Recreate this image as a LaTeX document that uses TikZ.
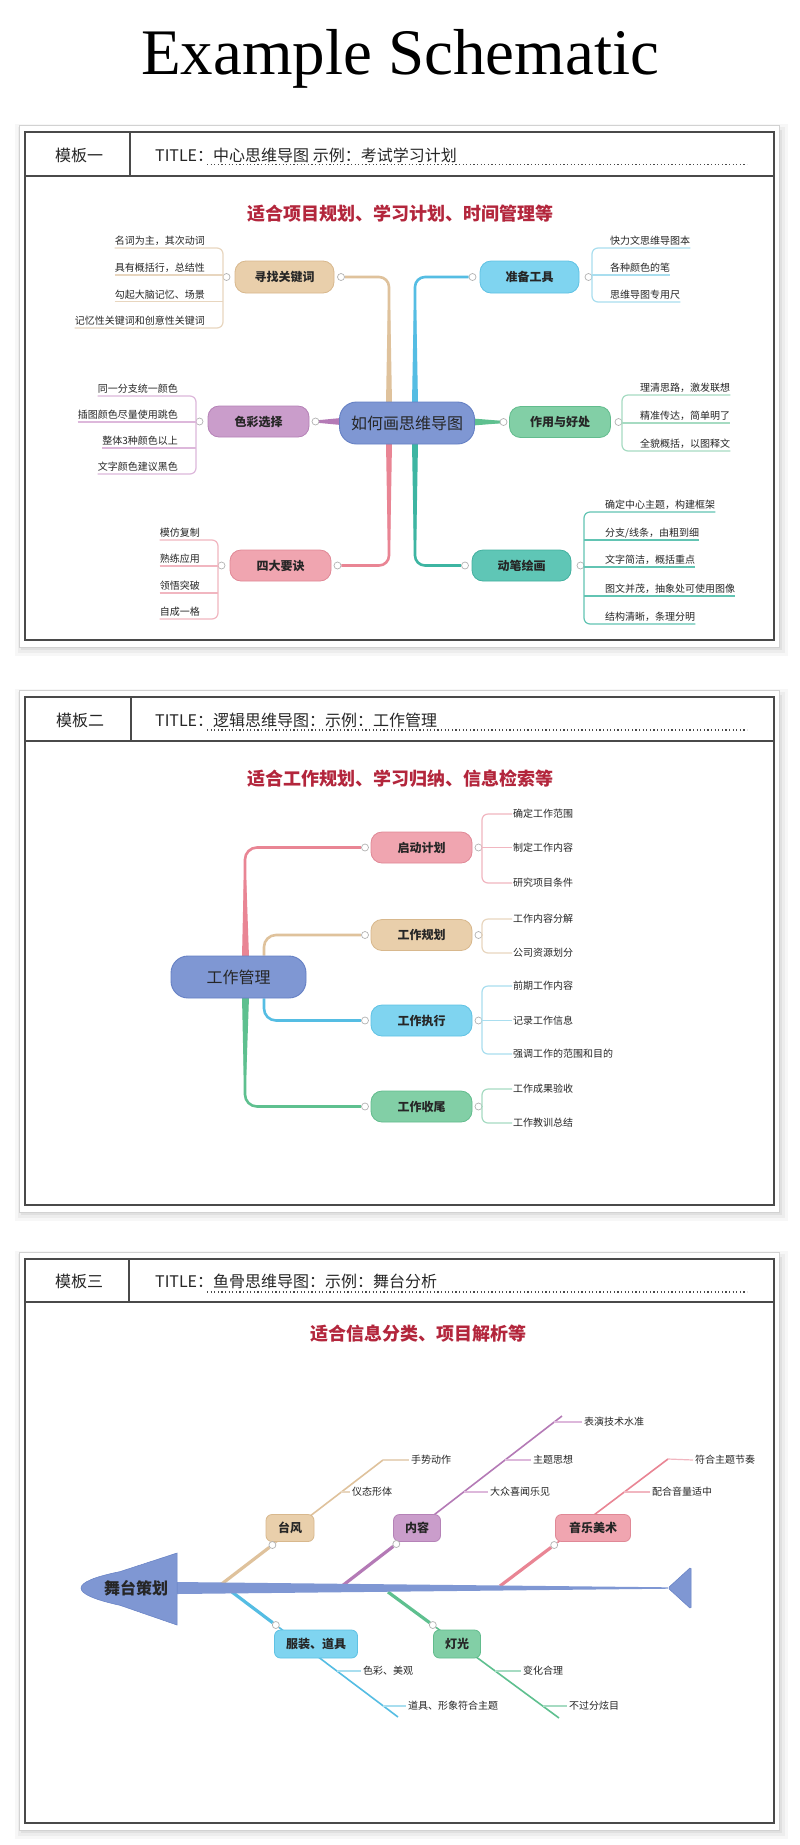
\documentclass[tikz,border=0pt]{standalone}
\usepackage{fontspec}
\newfontfamily\cjk{Noto Sans CJK SC}
\newfontfamily\ttlfont{Liberation Serif}
\usetikzlibrary{calc}
\pgfdeclarelayer{cards}
\pgfdeclarelayer{conn}
\pgfsetlayers{cards,conn,main}
\newcommand\fsz[1]{\fontsize{#1pt}{#1pt}\selectfont}
\definecolor{txtc}{HTML}{262626}
\definecolor{framec}{HTML}{4A4A4A}
\definecolor{subred}{HTML}{B3263C}
\definecolor{blueF}{HTML}{7F97D3}\definecolor{blueB}{HTML}{6580C4}
\definecolor{tanF}{HTML}{E9CFAB}\definecolor{tanB}{HTML}{D8B88D}\definecolor{tanL}{HTML}{DFC29C}\definecolor{tanU}{HTML}{E8D6BF}
\definecolor{skyF}{HTML}{7FD4F0}\definecolor{skyB}{HTML}{5FC2E4}\definecolor{skyL}{HTML}{55BDE3}\definecolor{skyU}{HTML}{A9DEEF}
\definecolor{purF}{HTML}{CA9DCB}\definecolor{purB}{HTML}{B582B7}\definecolor{purL}{HTML}{B47AB6}\definecolor{purU}{HTML}{DDB8DB}
\definecolor{grnF}{HTML}{82CFA6}\definecolor{grnB}{HTML}{62BC8D}\definecolor{grnL}{HTML}{5EC08F}\definecolor{grnU}{HTML}{A6DBC2}
\definecolor{pnkF}{HTML}{F0A5B0}\definecolor{pnkB}{HTML}{E08896}\definecolor{pnkL}{HTML}{E98594}\definecolor{pnkU}{HTML}{F1B6C0}
\definecolor{tealF}{HTML}{5FC6B6}\definecolor{tealB}{HTML}{42B09F}\definecolor{tealL}{HTML}{3DB5A2}\definecolor{tealU}{HTML}{62C4B3}
\tikzset{
 mnode/.style={draw=#1B, fill=#1F, rounded corners=11pt, minimum width=101pt, minimum height=31pt, inner sep=0pt, font=\cjk\bfseries\fsz{12}, text=txtc, line width=0.8pt},
 cnode/.style={draw=blueB, fill=blueF, rounded corners=17pt, minimum width=135pt, minimum height=42pt, inner sep=0pt, font=\cjk\fsz{16}, text=txtc, line width=0.9pt},
 knob/.style={circle, draw=gray!60, fill=white, line width=0.7pt, minimum size=7pt, inner sep=0pt},
 brl/.style={draw=#1L, line width=2.6pt, rounded corners=10pt},
 lf/.style={draw=#1U, line width=1.2pt, rounded corners=6pt},
 leaf/.style={font=\cjk\fsz{10}, inner xsep=0pt, inner ysep=2pt, text=txtc},
 hdr/.style={font=\cjk\fsz{16}, text=txtc, inner sep=0pt},
 subt/.style={font=\cjk\bfseries\fsz{18}, text=subred, inner sep=0pt},
 dotl/.style={draw=framec, line width=1.2pt, dash pattern=on 1.2pt off 2.4pt},
 fnode/.style={draw=#1B, fill=#1F, rounded corners=6pt, minimum height=27pt, inner sep=0pt, font=\cjk\bfseries\fsz{12}, text=txtc, line width=0.8pt},
 bone/.style={draw=#1L, line width=3.2pt},
 bonet/.style={draw=#1L, line width=1.6pt},
 stub/.style={draw=#1U, line width=1.2pt},
}
\newcommand\mycard[4]{%
 \foreach \d/\o in {12/0.03,9/0.04,6/0.05,3/0.07}{%
   \fill[black,opacity=\o] (#1-\d+2,#2-\d+4) rectangle (#3+\d+2,#4+\d+4);}
 \fill[white] (#1-6,#2-7) rectangle (#3+5,#4+7);
 \draw[gray!35,line width=0.6pt] (#1-6,#2-7) rectangle (#3+5,#4+7);
 \draw[framec,line width=1.4pt] (#1,#2) rectangle (#3,#4);
}
\begin{document}
\begin{tikzpicture}[x=1pt,y=-1pt]
\useasboundingbox (0,0) rectangle (800,1845);
\begin{pgfonlayer}{cards}
\fill[white] (0,0) rectangle (800,1845);
\mycard{25}{132}{774}{640}
\mycard{25}{697}{774}{1205}
\mycard{25}{1259}{774}{1823}
\draw[framec,line width=1.2pt] (25,176) -- (774,176) (130,132) -- (130,176);
\draw[framec,line width=1.2pt] (25,741) -- (774,741) (131,697) -- (131,741);
\draw[framec,line width=1.2pt] (25,1302) -- (774,1302) (129,1259) -- (129,1302);
\draw[dotl] (207,164.5) -- (747,164.5);
\draw[dotl] (207,730) -- (747,730);
\draw[dotl] (207,1292) -- (747,1292);
\end{pgfonlayer}

\node[font=\ttlfont\fsz{65}, inner sep=0pt, text=black] (title) at (400,59) {Example Schematic};

% ---------------- Panel 1 ----------------
\node[hdr] (h1a) at (79,155) {模板一};
\node[hdr,anchor=west] (h1b) at (155,155) {TITLE：中心思维导图 示例：考试学习计划};
\node[subt] (s1) at (400,214) {适合项目规划、学习计划、时间管理等};

\node[cnode] (c1) at (407,423) {如何画思维导图};
\node[mnode=tan, minimum width=99pt, minimum height=32pt] (n1a) at (284.5,277) {寻找关键词};
\node[mnode=sky, minimum width=99pt, minimum height=32pt] (n1b) at (529.5,277) {准备工具};
\node[mnode=pur] (n1c) at (258.5,421.5) {色彩选择};
\node[mnode=grn] (n1d) at (560,422) {作用与好处};
\node[mnode=pnk] (n1e) at (280.5,565.5) {四大要诀};
\node[mnode=teal, minimum width=99pt] (n1f) at (521.5,565.5) {动笔绘画};

\node[knob] (k1a-l) at (226.5,277) {};  \node[knob] (k1a-r) at (341,277) {};
\node[knob] (k1b-l) at (472.5,277) {};  \node[knob] (k1b-r) at (588.5,277) {};
\node[knob] (k1c-l) at (199.5,421.5) {};\node[knob] (k1c-r) at (315.5,421.5) {};
\node[knob] (k1d-l) at (503.5,422) {};  \node[knob] (k1d-r) at (618.5,422) {};
\node[knob] (k1e-l) at (221.5,565.5) {};\node[knob] (k1e-r) at (337.5,565.5) {};
\node[knob] (k1f-l) at (465,565.5) {};  \node[knob] (k1f-r) at (580.5,565.5) {};

\begin{pgfonlayer}{conn}
\draw[brl=tan] (k1a-r.east) -| ([xshift=-18pt]c1.north);
\draw[brl=sky] (k1b-l.west) -| ([xshift=8pt]c1.north);
\draw[brl=pur] (k1c-r.east) -- (k1c-r.east -| c1.west);
\draw[brl=grn] (c1.east) -- (k1d-l.west);
\draw[brl=pnk] (k1e-r.east) -| ([xshift=-18pt]c1.south);
\draw[brl=teal] (k1f-l.west) -| ([xshift=8pt]c1.south);
% tapering near the centre
\fill[tanL] (386,403) -- (392,403) -- (390.3,310) -- (387.7,310) -- cycle;
\fill[skyL] (412,403) -- (418,403) -- (416.3,310) -- (413.7,310) -- cycle;
\fill[pnkL] (386,443) -- (392,443) -- (390.3,540) -- (387.7,540) -- cycle;
\fill[tealL] (412,443) -- (418,443) -- (416.3,540) -- (413.7,540) -- cycle;
\fill[purL] (341,418) -- (341,425) -- (318,422.8) -- (318,420.2) -- cycle;
\fill[grnL] (473,418.5) -- (473,425.5) -- (500,423.3) -- (500,420.7) -- cycle;
\end{pgfonlayer}

% tan leaves (left)
\node[leaf,anchor=south east] (l1a1) at (205,248) {名词为主，其次动词};
\node[leaf,anchor=south east] (l1a2) at (205,275) {具有概括行，总结性};
\node[leaf,anchor=south east] (l1a3) at (205,301.5) {勾起大脑记忆、场景};
\node[leaf,anchor=south east] (l1a4) at (205,328) {记忆性关键词和创意性关键词};
\draw[lf=tan] (l1a1.south west) -- ([xshift=18pt]l1a1.south east) -- ([xshift=18pt]l1a4.south east) -- (l1a4.south west);
\draw[lf=tan] (l1a2.south west) -- ([xshift=18pt]l1a2.south east);
\draw[lf=tan] (l1a3.south west) -- ([xshift=18pt]l1a3.south east);

% sky leaves (right)
\node[leaf,anchor=south west] (l1b1) at (610,248) {快力文思维导图本};
\node[leaf,anchor=south west] (l1b2) at (610,275) {各种颜色的笔};
\node[leaf,anchor=south west] (l1b3) at (610,302) {思维导图专用尺};
\draw[lf=sky] (l1b1.south east) -- ([xshift=-18pt]l1b1.south west) -- ([xshift=-18pt]l1b3.south west) -- (l1b3.south east);
\draw[lf=sky] ([xshift=-18pt]l1b2.south west) -- (l1b2.south east);

% purple leaves (left)
\node[leaf,anchor=south east] (l1c1) at (178,396) {同一分支统一颜色};
\node[leaf,anchor=south east] (l1c2) at (178,422) {插图颜色尽量使用跳色};
\node[leaf,anchor=south east] (l1c3) at (178,448) {整体3种颜色以上};
\node[leaf,anchor=south east] (l1c4) at (178,474) {文字颜色建议黑色};
\draw[lf=pur] (l1c1.south west) -- ([xshift=18pt]l1c1.south east) -- ([xshift=18pt]l1c4.south east) -- (l1c4.south west);
\draw[lf=pur] (l1c2.south west) -- ([xshift=18pt]l1c2.south east);
\draw[lf=pur] (l1c3.south west) -- ([xshift=18pt]l1c3.south east);

% green leaves (right)
\node[leaf,anchor=south west] (l1d1) at (640,395) {理清思路，激发联想};
\node[leaf,anchor=south west] (l1d2) at (640,423) {精准传达，简单明了};
\node[leaf,anchor=south west] (l1d3) at (640,451) {全貌概括，以图释文};
\draw[lf=grn] (l1d1.south east) -- ([xshift=-18pt]l1d1.south west) -- ([xshift=-18pt]l1d3.south west) -- (l1d3.south east);
\draw[lf=grn] ([xshift=-18pt]l1d2.south west) -- (l1d2.south east);

% pink leaves (left)
\node[leaf,anchor=south east] (l1e1) at (200,540) {模仿复制};
\node[leaf,anchor=south east] (l1e2) at (200,566) {熟练应用};
\node[leaf,anchor=south east] (l1e3) at (200,593) {领悟突破};
\node[leaf,anchor=south east] (l1e4) at (200,619) {自成一格};
\draw[lf=pnk] (l1e1.south west) -- ([xshift=18pt]l1e1.south east) -- ([xshift=18pt]l1e4.south east) -- (l1e4.south west);
\draw[lf=pnk] (l1e2.south west) -- ([xshift=18pt]l1e2.south east);
\draw[lf=pnk] (l1e3.south west) -- ([xshift=18pt]l1e3.south east);

% teal leaves (right)
\node[leaf,anchor=south west] (l1f1) at (605,512) {确定中心主题，构建框架};
\node[leaf,anchor=south west] (l1f2) at (605,540) {分支/线条，由粗到细};
\node[leaf,anchor=south west] (l1f3) at (605,567) {文字简洁，概括重点};
\node[leaf,anchor=south west] (l1f4) at (605,596) {图文并茂，抽象处可使用图像};
\node[leaf,anchor=south west] (l1f5) at (605,624) {结构清晰，条理分明};
\draw[lf=teal] (l1f1.south east) -- ([xshift=-21pt]l1f1.south west) -- ([xshift=-21pt]l1f5.south west) -- (l1f5.south east);
\draw[lf=teal] ([xshift=-21pt]l1f2.south west) -- (l1f2.south east);
\draw[lf=teal] ([xshift=-21pt]l1f3.south west) -- (l1f3.south east);
\draw[lf=teal] ([xshift=-21pt]l1f4.south west) -- (l1f4.south east);

% ---------------- Panel 2 ----------------
\node[hdr] (h2a) at (80,720) {模板二};
\node[hdr,anchor=west] (h2b) at (155,720) {TITLE：逻辑思维导图：示例：工作管理};
\node[subt] (s2) at (400,779) {适合工作规划、学习归纳、信息检索等};

\node[cnode] (r2) at (238.5,977) {工作管理};
\node[mnode=pnk] (n2a) at (421.5,847.5) {启动计划};
\node[mnode=tan] (n2b) at (421.5,935) {工作规划};
\node[mnode=sky] (n2c) at (421.5,1020.5) {工作执行};
\node[mnode=grn] (n2d) at (421.5,1106.5) {工作收尾};
\node[knob] (k2a-l) at (365,847.5) {}; \node[knob] (k2a-r) at (478.5,847.5) {};
\node[knob] (k2b-l) at (365,935) {};   \node[knob] (k2b-r) at (478.5,935) {};
\node[knob] (k2c-l) at (365,1020.5) {};\node[knob] (k2c-r) at (478.5,1020.5) {};
\node[knob] (k2d-l) at (365,1106.5) {};\node[knob] (k2d-r) at (478.5,1106.5) {};

\begin{pgfonlayer}{conn}
\draw[brl=pnk, rounded corners=12pt] ([xshift=6.5pt]r2.north) |- (k2a-l.west);
\draw[brl=tan, rounded corners=12pt] ([xshift=25.5pt]r2.north) |- (k2b-l.west);
\draw[brl=sky, rounded corners=12pt] ([xshift=25.5pt]r2.south) |- (k2c-l.west);
\draw[brl=grn, rounded corners=12pt] ([xshift=6.5pt]r2.south) |- (k2d-l.west);
\fill[pnkL] (242,957) -- (249,957) -- (246.3,880) -- (243.7,880) -- cycle;
\fill[grnL] (242,997) -- (249,997) -- (246.3,1075) -- (243.7,1075) -- cycle;
\end{pgfonlayer}

\node[leaf,anchor=west,inner xsep=1pt] (l2a1) at (512,814) {确定工作范围};
\node[leaf,anchor=west,inner xsep=1pt] (l2a2) at (512,847.5) {制定工作内容};
\node[leaf,anchor=west,inner xsep=1pt] (l2a3) at (512,883) {研究项目条件};
\draw[lf=pnk] (l2a1.west) -- ([xshift=-30pt]l2a1.west) -- ([xshift=-30pt]l2a3.west) -- (l2a3.west);
\draw[lf=pnk] (k2a-r.east) -- (l2a2.west);

\node[leaf,anchor=west,inner xsep=1pt] (l2b1) at (512,919) {工作内容分解};
\node[leaf,anchor=west,inner xsep=1pt] (l2b2) at (512,953) {公司资源划分};
\draw[lf=tan] (l2b1.west) -- ([xshift=-30pt]l2b1.west) -- ([xshift=-30pt]l2b2.west) -- (l2b2.west);

\node[leaf,anchor=west,inner xsep=1pt] (l2c1) at (512,986) {前期工作内容};
\node[leaf,anchor=west,inner xsep=1pt] (l2c2) at (512,1020.5) {记录工作信息};
\node[leaf,anchor=west,inner xsep=1pt] (l2c3) at (512,1054) {强调工作的范围和目的};
\draw[lf=sky] (l2c1.west) -- ([xshift=-30pt]l2c1.west) -- ([xshift=-30pt]l2c3.west) -- (l2c3.west);
\draw[lf=sky] (k2c-r.east) -- (l2c2.west);

\node[leaf,anchor=west,inner xsep=1pt] (l2d1) at (512,1089) {工作成果验收};
\node[leaf,anchor=west,inner xsep=1pt] (l2d2) at (512,1123) {工作教训总结};
\draw[lf=grn] (l2d1.west) -- ([xshift=-30pt]l2d1.west) -- ([xshift=-30pt]l2d2.west) -- (l2d2.west);
\coordinate (b2d) at (482,1106.5);
\coordinate (b2b) at (482,935);
\draw[lf=grn] (k2d-r.east) -- (b2d);
\draw[lf=tan] (k2b-r.east) -- (b2b);

% ---------------- Panel 3 ----------------
\node[hdr] (h3a) at (79,1281) {模板三};
\node[hdr,anchor=west] (h3b) at (155,1281) {TITLE：鱼骨思维导图：示例：舞台分析};
\node[subt] (s3) at (418,1334) {适合信息分类、项目解析等};

% spine, tail and head
\fill[blueF] (177,1582) -- (668,1587.3) -- (668,1588.7) -- (177,1594) -- cycle;
\filldraw[fill=blueF, draw=blueB, line width=0.5pt, rounded corners=1.5pt] (691,1567) -- (668,1588) -- (691,1609) -- cycle;
\filldraw[fill=blueF, draw=blueB, line width=0.5pt] (177,1553) -- (120,1571.6) .. controls (68,1582) and (68,1594) .. (120,1605.3) -- (177,1625) -- cycle;
\node[font=\cjk\bfseries\fsz{16}, text=txtc, inner sep=0pt] (head) at (136,1588) {舞台策划};

\coordinate (sp1) at (219,1586); \coordinate (tp1) at (383,1460);
\coordinate (sp2) at (342,1586); \coordinate (tp2) at (562,1416);
\coordinate (sp3) at (500,1586); \coordinate (tp3) at (668,1459);
\coordinate (sp4) at (232,1592); \coordinate (tp4) at (398,1717);
\coordinate (sp5) at (388,1592); \coordinate (tp5) at (559,1718);

\node[fnode=tan, minimum width=48pt] (f1) at (290,1528) {台风};
\node[fnode=pur, minimum width=47pt] (f2) at (417,1528) {内容};
\node[fnode=pnk, minimum width=75pt] (f3) at (593,1528) {音乐美术};
\node[fnode=sky, minimum width=83pt, minimum height=28pt] (f4) at (316,1644) {服装、道具};
\node[fnode=grn, minimum width=47pt, minimum height=28pt] (f5) at (457,1644) {灯光};
\node[knob] (fk1) at (272.4,1545) {};
\node[knob] (fk2) at (396.3,1544) {};
\node[knob] (fk3) at (554.2,1545) {};
\node[knob] (fk4) at (275.8,1625) {};
\node[knob] (fk5) at (432.8,1625) {};

\begin{pgfonlayer}{conn}
\draw[bone=tan] (sp1) -- (fk1); \draw[bonet=tan] (fk1) -- (tp1);
\draw[bone=pur] (sp2) -- (fk2); \draw[bonet=pur] (fk2) -- (tp2);
\draw[bone=pnk] (sp3) -- (fk3); \draw[bonet=pnk] (fk3) -- (tp3);
\draw[bone=sky] (sp4) -- (fk4); \draw[bonet=sky] (fk4) -- (tp4);
\draw[bone=grn] (sp5) -- (fk5); \draw[bonet=grn] (fk5) -- (tp5);
\end{pgfonlayer}

\node[leaf,anchor=west] (g1a) at (411,1460) {手势动作};
\node[leaf,anchor=west] (g1b) at (352,1492) {仪态形体};
\draw[stub=tan] (tp1) -- ([xshift=-2pt]g1a.west);
\draw[stub=tan] (341.4,1492) -- ([xshift=-2pt]g1b.west);

\node[leaf,anchor=west] (g2a) at (584,1422) {表演技术水准};
\node[leaf,anchor=west] (g2b) at (533,1460) {主题思想};
\node[leaf,anchor=west] (g2c) at (490,1492) {大众喜闻乐见};
\draw[stub=pur] (554.2,1422) -- ([xshift=-2pt]g2a.west);
\draw[stub=pur] (505,1460) -- ([xshift=-2pt]g2b.west);
\draw[stub=pur] (463.6,1492) -- ([xshift=-2pt]g2c.west);

\node[leaf,anchor=west] (g3a) at (695,1460) {符合主题节奏};
\node[leaf,anchor=west] (g3b) at (652,1492) {配合音量适中};
\draw[stub=pnk] (tp3) -- ([xshift=-2pt]g3a.west);
\draw[stub=pnk] (624.3,1492) -- ([xshift=-2pt]g3b.west);

\node[leaf,anchor=west] (g4a) at (363,1671) {色彩、美观};
\node[leaf,anchor=west] (g4b) at (408,1706) {道具、形象符合主题};
\draw[stub=sky] (336.9,1671) -- ([xshift=-2pt]g4a.west);
\draw[stub=sky] (383.4,1706) -- ([xshift=-2pt]g4b.west);

\node[leaf,anchor=west] (g5a) at (523,1671) {变化合理};
\node[leaf,anchor=west] (g5b) at (569,1706) {不过分炫目};
\draw[stub=grn] (495.2,1671) -- ([xshift=-2pt]g5a.west);
\draw[stub=grn] (542.7,1706) -- ([xshift=-2pt]g5b.west);
\end{tikzpicture}
\end{document}
